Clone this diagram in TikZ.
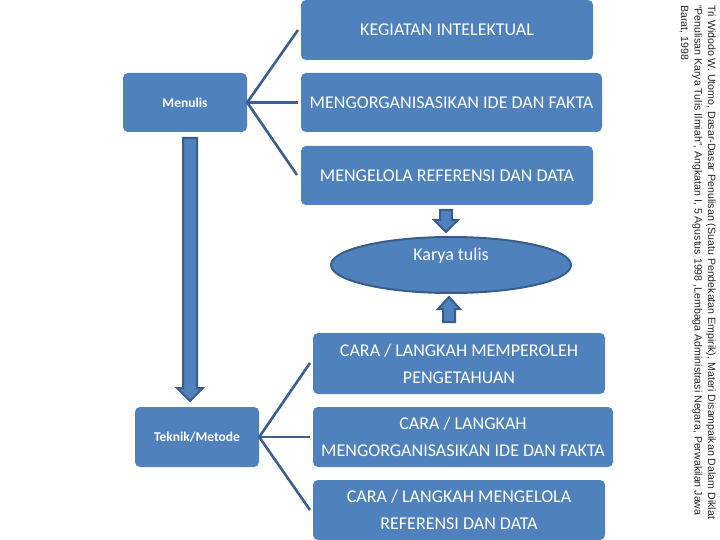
\documentclass[tikz,border=0pt]{standalone}
\usepackage{fontspec}
\setmainfont{Carlito}
\newfontfamily\notefont{Liberation Sans}
\usetikzlibrary{shapes.geometric}
\definecolor{boxblue}{RGB}{79,129,189}
\definecolor{lineblue}{RGB}{60,95,140}
\definecolor{edgeblue}{RGB}{56,93,138}
\begin{document}
\begin{tikzpicture}[x=1pt,y=-1pt,
  box/.style={fill=boxblue, rounded corners=5pt, text=white, font=\fontsize{18}{27}\selectfont, align=center, inner sep=0pt},
  sidebox/.style={fill=boxblue, rounded corners=5pt, text=white, font=\fontsize{13.5}{16}\selectfont\bfseries, inner sep=0pt, minimum width=124pt, minimum height=59pt},
  bracket/.style={draw=lineblue, line width=2.6pt},
  blockarrow/.style={fill=boxblue, draw=edgeblue, line width=2pt, line join=miter}]
\useasboundingbox (0,0) rectangle (720,540);
% top group
\node[box, minimum width=292pt, minimum height=60pt] (b1) at (447,30) {KEGIATAN INTELEKTUAL};
\node[box, minimum width=301pt, minimum height=59pt] (b2) at (451.5,102.5) {MENGORGANISASIKAN IDE DAN FAKTA};
\node[box, minimum width=292pt, minimum height=59pt] (b3) at (447,175.5) {MENGELOLA REFERENSI DAN DATA};
\node[sidebox] (menulis) at (185,102.5) {Menulis};
\coordinate (m1) at (298,30);
\coordinate (m2) at (298,102.5);
\coordinate (m3) at (297,175);
\draw[bracket] (m1) -- (menulis.east) -- (m3);
\draw[bracket] (menulis.east) -- (m2);
% karya tulis
\node[ellipse, fill=boxblue, draw=edgeblue, line width=2pt, minimum width=240pt, minimum height=56pt, inner sep=0pt] (karya) at (451,265) {};
\node[text=white, font=\fontsize{18}{20}\selectfont, inner sep=0pt] (kt) at (451,256) {Karya tulis};
% small down arrow
\filldraw[blockarrow] (440,210) -- (452,210) -- (452,220) -- (458,220) -- (446,232) -- (434,220) -- (440,220) -- cycle;
% small up arrow
\filldraw[blockarrow] (443,322) -- (455,322) -- (455,309) -- (460,309) -- (449,297) -- (438,309) -- (443,309) -- cycle;
% big down arrow
\filldraw[blockarrow] (183,138) -- (197,138) -- (197,388) -- (203,388) -- (190,401) -- (177,388) -- (183,388) -- cycle;
% lower group
\node[box, minimum width=292pt, minimum height=61pt] (c1) at (459,363.5) {CARA / LANGKAH MEMPEROLEH\\PENGETAHUAN};
\node[box, minimum width=300pt, minimum height=60pt] (c2) at (463,437) {CARA / LANGKAH\\MENGORGANISASIKAN IDE DAN FAKTA};
\node[box, minimum width=292pt, minimum height=60pt] (c3) at (459,510) {CARA / LANGKAH MENGELOLA\\REFERENSI DAN DATA};
\node[sidebox, minimum height=60pt] (teknik) at (197,437) {Teknik/Metode};
\coordinate (t1) at (310,363);
\coordinate (t2) at (310,437);
\coordinate (t3) at (310,510);
\draw[bracket] (t1) -- (teknik.east) -- (t3);
\draw[bracket] (teknik.east) -- (t2);
% source note
\node[rotate=-90, anchor=north west, align=left, inner sep=0pt, text=black!85, font=\notefont\fontsize{10.6}{13.5}\selectfont] (note) at (716,5) {Tri Widodo W. Utomo, Dasar-Dasar Penulisan (Suatu Pendekatan Empirik), Materi Disampaikan Dalam Diklat\\“Penulisan Karya Tulis Ilmiah”, Angkatan I, 5 Agustus 1998 ,Lembaga Administrasi Negara, Perwakilan Jawa\\Barat, 1998};
\end{tikzpicture}
\end{document}
